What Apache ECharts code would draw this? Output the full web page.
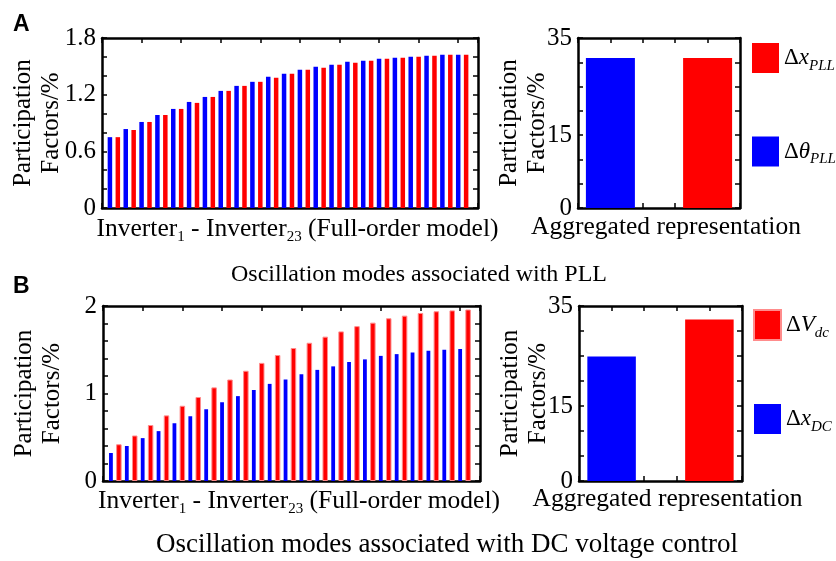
<!DOCTYPE html>
<html><head><meta charset="utf-8">
<script src="https://cdn.jsdelivr.net/npm/echarts@6/dist/echarts.min.js"></script>
<style>html,body{margin:0;padding:0;background:#fff}#c{width:836px;height:561px}</style>
</head><body><div id="c"></div>
<script>
// ---- data ----
const blueA = [0.75,0.836,0.911,0.985,1.049,1.123,1.176,1.240,1.293,1.336,1.389,1.421,1.463,1.495,1.517,1.549,1.559,1.580,1.591,1.602,1.612,1.623,1.623];
const redA  = [0.75,0.826,0.911,0.985,1.049,1.113,1.176,1.240,1.293,1.336,1.378,1.421,1.463,1.485,1.517,1.538,1.559,1.580,1.591,1.602,1.612,1.623,1.623];
const aggA  = [30.9, 30.9];           // [blue Δθ_PLL, red Δx_PLL]
const blueB = [0.32,0.40,0.49,0.57,0.66,0.74,0.82,0.90,0.97,1.04,1.11,1.16,1.22,1.27,1.31,1.36,1.39,1.43,1.45,1.47,1.49,1.50,1.51];
const redB  = [0.42,0.52,0.64,0.75,0.86,0.96,1.07,1.16,1.26,1.35,1.44,1.52,1.58,1.65,1.71,1.77,1.81,1.86,1.89,1.92,1.94,1.95,1.96];
const aggB  = [24.9, 32.3];           // [blue Δx_DC, red ΔV_dc]
const yLabelsA = [0, 0.6, 1.2, 1.8];
const yLabelsB = [0, 1, 2];
const yLabelsAgg = [0, 15, 35];
const xNameFull = 'Inverter{sub|1} - Inverter{sub|23} (Full-order model)';
const xNameAgg = 'Aggregated representation';
const yName = 'Participation\nFactors/%';
const titleA = 'Oscillation modes associated with PLL';
const titleB = 'Oscillation modes associated with DC voltage control';

// ---- style ----
const FONT = '"Liberation Serif", "Times New Roman", serif';
const BLUE = '#0000ff', RED = '#ff0000';
const lineStyle = {color:'#000', width:2.5};
const tickStyle = {show:true, inside:true, length:5, lineStyle:{color:'#000', width:1.5}};
const subRich = {sub:{fontFamily:FONT, fontSize:15, color:'#000', padding:[16,0,0,0]}};

function xAx(grid, pos, min, max, interval, name, gap, padLeft) {
  return {
    type:'value', gridIndex:grid, position:pos, min, max, interval,
    axisLine:{show:true, onZero:false, lineStyle},
    axisTick:tickStyle, axisLabel:{show:false}, splitLine:{show:false},
    name: name || '', nameLocation:'middle', nameGap: gap || 0,
    nameTextStyle:{fontFamily:FONT, fontSize:25.5, color:'#000', rich:subRich, padding:[0,0,0,padLeft || 0]}
  };
}
function yAx(grid, pos, min, max, interval, labels, gap) {
  return {
    type:'value', gridIndex:grid, position:pos, min, max, interval,
    axisLine:{show:true, onZero:false, lineStyle},
    axisTick:tickStyle, splitLine:{show:false},
    axisLabel:{show: !!labels, margin:6, fontFamily:FONT, fontSize:25, color:'#000',
      formatter: v => (labels && labels.some(t => Math.abs(t - v) < 1e-9)) ? String(+v.toFixed(2)) : ''},
    name: labels ? yName : '', nameLocation:'middle', nameRotate:90, nameGap: gap || 0,
    nameMoveOverlap:false,
    nameTextStyle:{fontFamily:FONT, fontSize:25, color:'#000', lineHeight:28}
  };
}
function bars(name, color, xi, yi, data, width, extra) {
  return Object.assign({type:'bar', name, xAxisIndex:xi, yAxisIndex:yi, data,
    barWidth:width, itemStyle:{color}, animation:false, silent:true}, extra || {});
}
const oddSlots = arr => arr.map((v,i) => [2*i+1, v]);
const evenSlots = arr => arr.map((v,i) => [2*i+2, v]);

const legendRich = {
  d:{fontFamily:FONT, fontSize:23, color:'#000'},
  i:{fontFamily:FONT, fontSize:23, fontStyle:'italic', color:'#000'},
  s:{fontFamily:FONT, fontSize:15, fontStyle:'italic', color:'#000', padding:[16,0,0,0]}
};
const legendText = {
  xPLL:'{d|Δ}{i|x}{s|PLL}', thetaPLL:'{d|Δ}{i|θ}{s|PLL}',
  Vdc:'{d|Δ}{i|V}{s|dc}', xDC:'{d|Δ}{i|x}{s|DC}'
};
function legend(left, top, gap, data) {
  return {left, top, orient:'vertical', icon:'rect', itemWidth:27, itemHeight:30, itemGap:gap,
    selectedMode:false, data, formatter: n => legendText[n],
    textStyle:{rich:legendRich, fontFamily:FONT, fontSize:23}};
}

const option = {
  animation:false,
  grid:[
    {left:102, top:38, width:376, height:170},
    {left:578, top:38, width:162, height:170},
    {left:103, top:306, width:377, height:175},
    {left:579, top:306, width:163, height:175}
  ],
  xAxis:[
    xAx(0,'bottom',0,47.5,5,xNameFull,6,15), xAx(0,'top',0,47.5,5),
    xAx(1,'bottom',0,5,1,xNameAgg,6,14),     xAx(1,'top',0,5,1),
    xAx(2,'bottom',0,47.5,5,xNameFull,5,15), xAx(2,'top',0,47.5,5),
    xAx(3,'bottom',0,5,1,xNameAgg,5,14),     xAx(3,'top',0,5,1)
  ],
  yAxis:[
    yAx(0,'left',0,1.8,0.2,yLabelsA,37), yAx(0,'right',0,1.8,0.2),
    yAx(1,'left',0,35,5,yLabelsAgg,27),  yAx(1,'right',0,35,5),
    yAx(2,'left',0,2,0.2,yLabelsB,37),   yAx(2,'right',0,2,0.2),
    yAx(3,'left',0,35,5,yLabelsAgg,27),  yAx(3,'right',0,35,5)
  ],
  legend:[
    legend(747, 38, 63, ['xPLL','thetaPLL']),
    legend(748, 304, 63, ['Vdc','xDC'])
  ],
  series:[
    bars('thetaPLL', BLUE, 0, 0, oddSlots(blueA), 4.5),
    bars('xPLL', RED, 1, 0, evenSlots(redA), 4.5),
    bars('thetaPLL', BLUE, 2, 2, [[1, aggA[0]]], 49),
    bars('xPLL', RED, 3, 2, [[4, aggA[1]]], 49),
    bars('xDC', BLUE, 4, 4, oddSlots(blueB), 3.8),
    bars('Vdc', RED, 5, 4, evenSlots(redB), 5.5, {itemStyle:{color:RED, borderColor:'#ff8c8c', borderWidth:1}}),
    bars('xDC', BLUE, 6, 6, [[1, aggB[0]]], 48.5),
    bars('Vdc', RED, 7, 6, [[4, aggB[1]]], 48.5)
  ],
  graphic:[
    {type:'text', left:13, top:13, style:{text:'A', fontFamily:'"Liberation Sans", Arial, sans-serif', fontWeight:'bold', fontSize:23, fill:'#000'}},
    {type:'text', left:13, top:275, style:{text:'B', fontFamily:'"Liberation Sans", Arial, sans-serif', fontWeight:'bold', fontSize:23, fill:'#000'}},
    {type:'text', x:419, y:275, style:{text:titleA, fontFamily:FONT, fontSize:24, fill:'#000', align:'center', verticalAlign:'middle'}},
    {type:'text', x:447, y:545, style:{text:titleB, fontFamily:FONT, fontSize:27, fill:'#000', align:'center', verticalAlign:'middle'}}
  ]
};
const chart = echarts.init(document.getElementById('c'), null, {renderer:'canvas'});
chart.setOption(option);
</script></body></html>
